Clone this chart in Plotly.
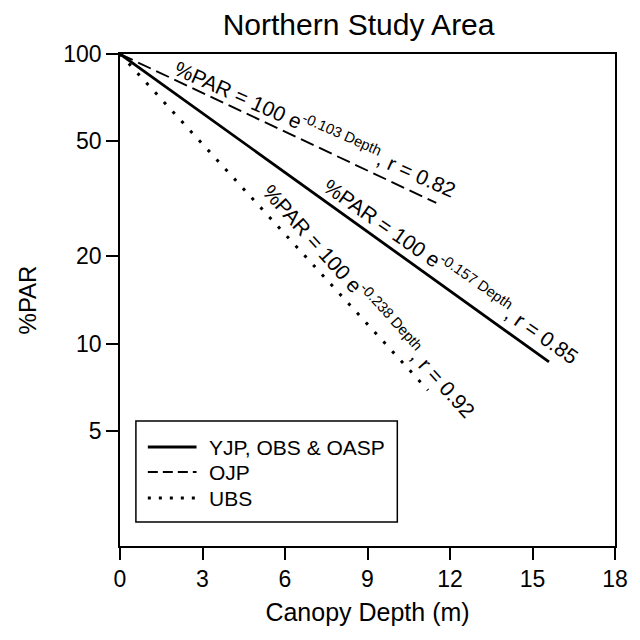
import plotly.graph_objects as go
import math

# ---- data ----
series_names = ["YJP, OBS & OASP", "OJP", "UBS"]
series_x = [[0, 15.6], [0, 11.5], [0, 11.2]]
series_y = [[100, 8.64], [100, 30.6], [100, 6.9]]
series_dash = ["solid", "14px,6px", "3px,10px"]
legend_dash = ["solid", "10px,5px", "3px,8px"]
series_width = [2.8, 1.9, 3]

eq_text = [
    "%PAR = 100 e<sup>-0.157 Depth</sup>, r = 0.85",
    "%PAR = 100 e<sup>-0.103 Depth</sup>, r = 0.82",
    "%PAR = 100 e<sup>-0.238 Depth</sup>, r = 0.92",
]
eq_pos_x = [12.04, 7.12, 9.07]
eq_pos_y = [17.9, 55.5, 14.1]
eq_angle = [35, 24, 48]

x_ticks = [0, 3, 6, 9, 12, 15, 18]
y_ticks = [5, 10, 20, 50, 100]
y_range = [2, 100]

FONT = "Liberation Sans, Arial, sans-serif"

# plot-area geometry (pixels) used to place the hand-drawn legend box
L, R, T, B = 120, 618, 54, 546


def px(xp):
    return (xp - L) / (R - L)


def py(yp):
    return (B - yp) / (B - T)


fig = go.Figure()
for name, xs, ys, dash, w in zip(series_names, series_x, series_y, series_dash, series_width):
    fig.add_trace(go.Scatter(x=xs, y=ys, mode="lines", name=name, showlegend=False,
                             line=dict(color="black", width=w, dash=dash)))

for txt, ex, ey, ang in zip(eq_text, eq_pos_x, eq_pos_y, eq_angle):
    fig.add_annotation(x=ex, y=math.log10(ey), text=txt, textangle=ang,
                       showarrow=False, xanchor="center", yanchor="middle",
                       font=dict(family=FONT, size=21, color="black"))

# legend (box, samples, labels)
fig.add_shape(type="rect", xref="paper", yref="paper",
              x0=px(136), x1=px(399), y0=py(522), y1=py(421),
              line=dict(color="black", width=1.5), fillcolor="white", layer="above")
legend_rows = [447, 472, 498]
for name, dash, w, row in zip(series_names, legend_dash, series_width, legend_rows):
    fig.add_shape(type="line", xref="paper", yref="paper",
                  x0=px(148), x1=px(197), y0=py(row), y1=py(row),
                  line=dict(color="black", width=w, dash=dash), layer="above")
    fig.add_annotation(xref="paper", yref="paper", x=px(208), y=py(row), text=name,
                       showarrow=False, xanchor="left", yanchor="middle",
                       font=dict(family=FONT, size=21, color="black"))

fig.update_layout(
    width=640, height=640,
    margin=dict(l=L, r=640 - R, t=T, b=640 - B),
    paper_bgcolor="white", plot_bgcolor="white",
    font=dict(family=FONT, color="black"),
    title=dict(text="Northern Study Area", x=0.482, xref="paper",
               y=0.9625, yref="container", xanchor="center", yanchor="middle",
               font=dict(family=FONT, size=30, color="black")),
    showlegend=False,
)
fig.update_xaxes(range=[0, 18], tickvals=x_ticks, ticktext=[str(v) for v in x_ticks],
                 ticks="outside", ticklen=12, tickwidth=1.5, tickcolor="black",
                 showline=True, linecolor="black", linewidth=1.5, mirror=True,
                 showgrid=False, zeroline=False,
                 tickfont=dict(family=FONT, size=23, color="black"),
                 title=dict(text="Canopy Depth (m)", standoff=12,
                            font=dict(family=FONT, size=25, color="black")))
fig.update_yaxes(type="log", range=[math.log10(y_range[0]), math.log10(y_range[1])],
                 tickvals=y_ticks, ticktext=[str(v) for v in y_ticks],
                 ticks="outside", ticklen=12, tickwidth=1.5, tickcolor="black",
                 showline=True, linecolor="black", linewidth=1.5, mirror=True,
                 showgrid=False, zeroline=False,
                 tickfont=dict(family=FONT, size=23, color="black"),
                 title=dict(text="%PAR", standoff=20,
                            font=dict(family=FONT, size=24, color="black")))

fig.write_html("out.html")
